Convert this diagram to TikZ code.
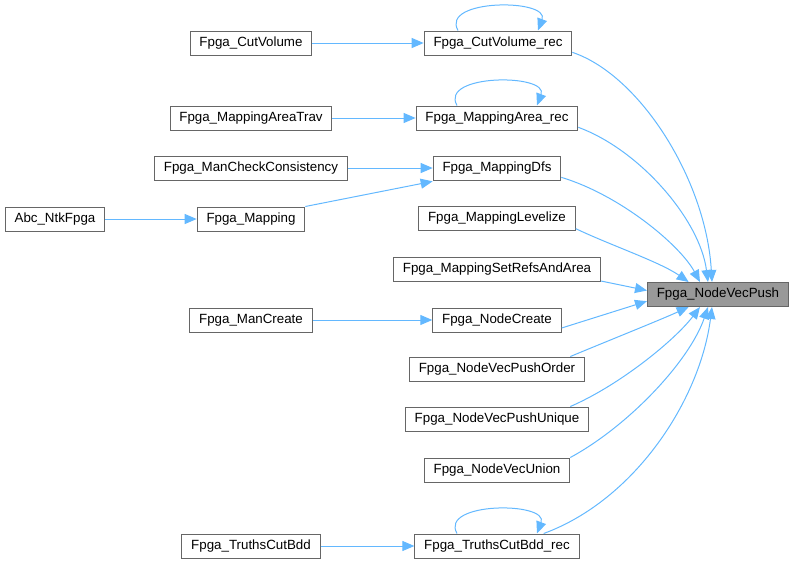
\documentclass[tikz,border=0pt]{standalone}
\usepackage{fontspec}
\setmainfont{Liberation Sans}
\usetikzlibrary{arrows.meta,positioning}
\definecolor{edgeblue}{RGB}{99,184,255}
\definecolor{boxline}{RGB}{102,102,102}
\definecolor{hlfill}{RGB}{153,153,153}
\tikzset{
  fnode/.style={draw=boxline, fill=white, line width=0.75pt, font=\fontsize{10}{12}\selectfont,
    minimum height=18pt, inner xsep=7pt, inner ysep=0pt},
  hnode/.style={fnode, fill=hlfill},
  carr/.style={-{Triangle[length=9pt, width=7.5pt]}, edgeblue, line width=0.75pt},
}
\begin{document}
\begin{tikzpicture}[x=0.75pt, y=-0.75pt]
  \useasboundingbox (0,0) rectangle (794,565);
  % callee
  \node[hnode] (push) at (718,294.5) {Fpga\_NodeVecPush};
  % direct callers
  \node[fnode] (cvr) at (498,43) {Fpga\_CutVolume\_rec};
  \node[fnode] (mar) at (497,118) {Fpga\_MappingArea\_rec};
  \node[fnode] (dfs) at (497,168) {Fpga\_MappingDfs};
  \node[fnode] (lev) at (497,218) {Fpga\_MappingLevelize};
  \node[fnode] (refs) at (497,269) {Fpga\_MappingSetRefsAndArea};
  \node[fnode] (ncr) at (497,320) {Fpga\_NodeCreate};
  \node[fnode] (pord) at (497,369) {Fpga\_NodeVecPushOrder};
  \node[fnode] (puni) at (497,419) {Fpga\_NodeVecPushUnique};
  \node[fnode] (vun) at (497,470) {Fpga\_NodeVecUnion};
  \node[fnode] (tcr) at (497,546) {Fpga\_TruthsCutBdd\_rec};
  % second level
  \node[fnode] (cv) at (251,43) {Fpga\_CutVolume};
  \node[fnode] (mat) at (251,118) {Fpga\_MappingAreaTrav};
  \node[fnode] (mcc) at (251,168) {Fpga\_ManCheckConsistency};
  \node[fnode] (map) at (251,219) {Fpga\_Mapping};
  \node[fnode] (mcr) at (251,320) {Fpga\_ManCreate};
  \node[fnode] (tcb) at (251,546) {Fpga\_TruthsCutBdd};
  \node[fnode] (abc) at (55,219) {Abc\_NtkFpga};

  \draw[carr] (cv) -- (cvr);
  \draw[carr] (mat) -- (mar);
  \draw[carr] (mcc) -- (dfs);
  \draw[carr] (map.north east) -- ([yshift=-10pt]dfs.west);
  \draw[carr] (abc) -- (map);
  \draw[carr] (mcr) -- (ncr);
  \draw[carr] (tcb) -- (tcr);
  % self loops
  \foreach \n in {cvr,mar,tcr}
    \draw[carr] ([xshift=-30pt]\n.north) .. controls +(-18,-32) and +(12,-32) .. ([xshift=30pt]\n.north);
  % into the callee
  \draw[carr] ([yshift=-7pt]cvr.east) .. controls (640,75) and (706,180) .. ([xshift=-4.5pt]push.north);
  \draw[carr] ([yshift=-7pt]mar.east) .. controls (640,150) and (700,220) .. ([xshift=-7.5pt]push.north);
  \draw[carr] ([yshift=-7pt]dfs.east) .. controls (620,195) and (680,245) .. ([xshift=-13.5pt]push.north);
  \draw[carr] ([yshift=-8pt]lev.east) .. controls (610,245) and (660,262) .. ([xshift=-22pt]push.north);
  \draw[carr] ([yshift=-9pt]refs.east) -- ([yshift=3pt]push.west);
  \draw[carr] ([yshift=-6pt]ncr.east) -- ([yshift=-5pt]push.west);
  \draw[carr] ([xshift=55pt]pord.north) .. controls (610,340) and (660,320) .. ([xshift=-22pt]push.south);
  \draw[carr] ([xshift=55pt]puni.north) .. controls (620,385) and (675,340) .. ([xshift=-13.5pt]push.south);
  \draw[carr] ([xshift=55pt]vun.north) .. controls (630,425) and (690,360) .. ([xshift=-7.5pt]push.south);
  \draw[carr] ([xshift=35pt]tcr.north) .. controls (635,500) and (700,400) .. ([xshift=-4.5pt]push.south);
\end{tikzpicture}
\end{document}
